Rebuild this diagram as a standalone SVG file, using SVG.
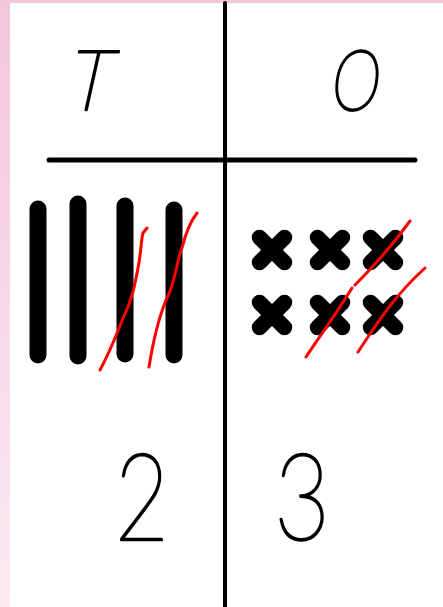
<svg xmlns="http://www.w3.org/2000/svg" width="443" height="607" viewBox="0 0 443 607">
<defs>
<linearGradient id="pink" x1="0" y1="0" x2="0" y2="1">
<stop offset="0" stop-color="#f4c6dc"/>
<stop offset="1" stop-color="#fbeaf2"/>
</linearGradient>
<g id="cross"><line x1="-12.5" y1="-12.5" x2="12.5" y2="12.5"/><line x1="-12.5" y1="12.5" x2="12.5" y2="-12.5"/></g>
</defs>
<style>
.txt{font-family:"DejaVu Sans ExtraLight","Lato Hairline","Lato Light",Lato,sans-serif;font-weight:200;fill:#000;stroke:#000;stroke-width:2.6;stroke-linejoin:round;stroke-linecap:round}
.it{font-style:italic}
.rule{stroke:#000;stroke-linecap:round;fill:none}
.stick{stroke:#000;stroke-width:17;stroke-linecap:round}
.x{stroke:#000;stroke-width:15.5;stroke-linecap:round}
.red{stroke:#ff0000;stroke-width:3;stroke-linecap:round;fill:none}
</style>
<rect width="443" height="607" fill="url(#pink)"/>
<rect x="10" y="3" width="433" height="604" fill="#fff"/>
<g id="chart">
<line class="rule" x1="225" y1="3" x2="225" y2="607" stroke-width="4" stroke-linecap="butt"/>
<line class="rule" x1="49" y1="160" x2="415" y2="160" stroke-width="5"/>
</g>
<g id="header-T"><text class="txt it" transform="translate(89,110) skewX(-6) scale(0.95,1)" font-size="84" text-anchor="middle">T</text></g>
<g id="header-O"><text class="txt it" transform="translate(355,110) skewX(-3) scale(0.8,1)" font-size="84" text-anchor="middle">O</text></g>
<g id="tens-sticks">
<line class="stick" x1="38" y1="209" x2="38" y2="355"/>
<line class="stick" x1="78" y1="204" x2="78" y2="356"/>
<line class="stick" x1="125" y1="206" x2="125" y2="354"/>
<line class="stick" x1="174" y1="210" x2="174" y2="355"/>
</g>
<g id="ones-crosses" class="x">
<use href="#cross" x="272" y="250"/>
<use href="#cross" x="330" y="250"/>
<use href="#cross" x="383" y="250"/>
<use href="#cross" x="272" y="315"/>
<use href="#cross" x="330" y="315"/>
<use href="#cross" x="383" y="315"/>
</g>
<g id="crossings">
<path class="red" d="M100,370 C112,348 118,330 124,316 C132,300 135,284 138,268 C141,254 141,240 143,233 L147,228"/>
<path class="red" d="M149,367 C152,348 158,320 166,300 C176,282 176,262 182,248 C186,232 190,222 197,213"/>
<path class="red" d="M306,357 C320,336 336,314 352,288"/>
<path class="red" d="M355,285 C372,268 392,246 410,221"/>
<path class="red" d="M358,352 C374,328 392,298 425,268"/>
</g>
<g id="answer-2"><text class="txt" transform="translate(142,540) scale(0.78,1)" font-size="120" text-anchor="middle">2</text></g>
<g id="answer-3"><text class="txt" transform="translate(302,540) scale(0.8,1)" font-size="120" text-anchor="middle">3</text></g>
</svg>
